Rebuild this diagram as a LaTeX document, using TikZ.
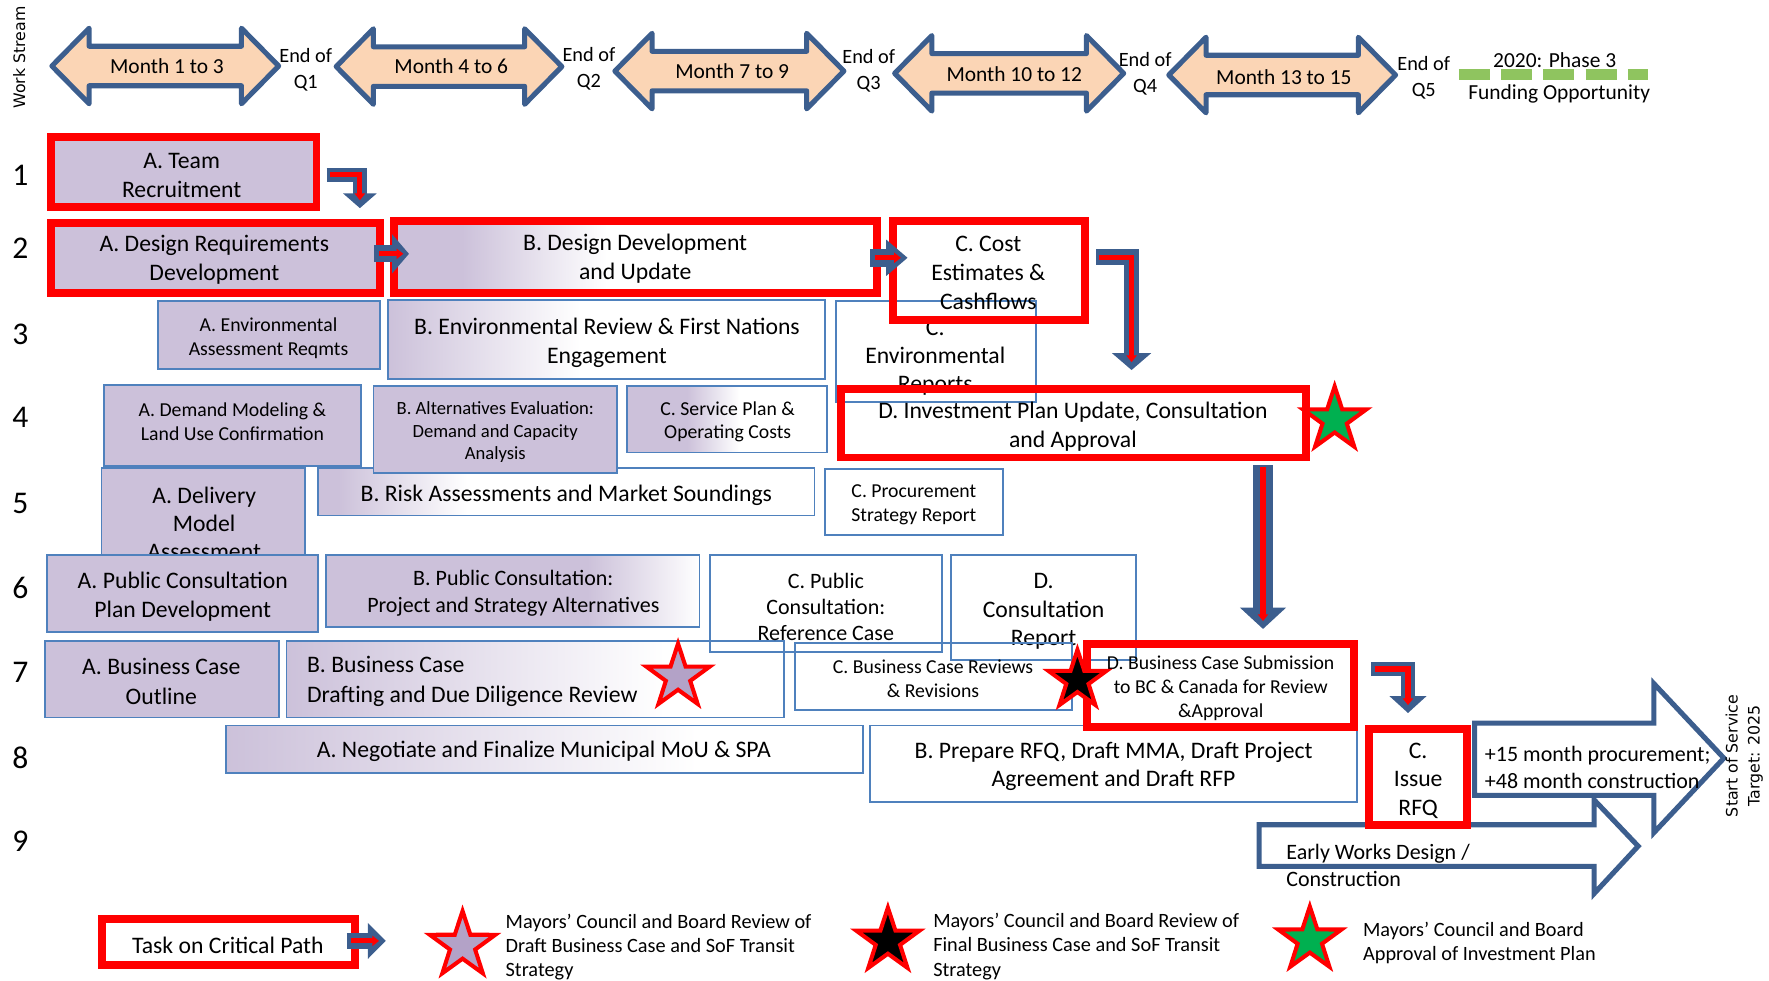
\documentclass[tikz,border=0pt]{standalone}
\usepackage{fontspec}
\setmainfont{Carlito}
\newfontfamily\verdfont{DejaVu Sans}
\usetikzlibrary{shapes.geometric,arrows.meta,calc}
\definecolor{lav}{HTML}{CCC1DA}
\definecolor{bblue}{HTML}{4F81BD}
\definecolor{ablue}{HTML}{3C5E8E}
\definecolor{peach}{HTML}{FBD5B5}
\definecolor{dgreen}{HTML}{8FC45F}
\definecolor{sgreen}{HTML}{00B050}
\definecolor{slav}{HTML}{B3A2C7}
\pgfdeclarehorizontalshading{fadeBdd}{100bp}{color(0bp)=(lav); color(32bp)=(lav); color(47bp)=(white); color(100bp)=(white)}
\pgfdeclarehorizontalshading{fadeBer}{100bp}{color(0bp)=(lav); color(25bp)=(lav); color(47bp)=(white); color(100bp)=(white)}
\pgfdeclarehorizontalshading{fadeCsp}{100bp}{color(0bp)=(lav); color(40bp)=(lav); color(53bp)=(white); color(100bp)=(white)}
\pgfdeclarehorizontalshading{fadeRisk}{100bp}{color(0bp)=(lav); color(27bp)=(lav); color(40bp)=(white); color(100bp)=(white)}
\pgfdeclarehorizontalshading{fadePub}{100bp}{color(0bp)=(lav); color(60bp)=(lav); color(75bp)=(white); color(100bp)=(white)}
\pgfdeclarehorizontalshading{fadeBbc}{100bp}{color(0bp)=(lav); color(25bp)=(lav); color(63bp)=(white); color(100bp)=(white)}
\pgfdeclarehorizontalshading{fadeNeg}{100bp}{color(0bp)=(lav); color(25bp)=(lav); color(62bp)=(white); color(100bp)=(white)}
\newcommand\fs[2]{\fontsize{#1}{#2}\selectfont}
\newcommand\hdrarrow[3]{%
  \draw[harr] (#1,#3) -- ({#1+33},{#3-33.5}) -- ({#1+33},{#3-17.5}) -- ({#2-33},{#3-17.5}) -- ({#2-33},{#3-33.5}) -- (#2,#3) -- ({#2-33},{#3+33.5}) -- ({#2-33},{#3+17.5}) -- ({#1+33},{#3+17.5}) -- ({#1+33},{#3+33.5}) -- cycle;}
\begin{document}
\begin{tikzpicture}[x=1pt,y=-1pt,
  pos/.style args={#1/#2/#3/#4}{minimum width={(#3)-(#1)}, minimum height={(#4)-(#2)}, at={({((#1)+(#3))/2},{((#2)+(#4))/2})}},
  rpos/.style args={#1/#2/#3/#4}{minimum width={(#3)-(#1)-7}, minimum height={(#4)-(#2)-7}, at={({((#1)+(#3))/2},{((#2)+(#4))/2})}},
  bx/.style={rectangle, draw=bblue, line width=1.6pt, inner sep=0pt},
  crit/.style={rectangle, draw=red, line width=7pt, inner sep=0pt},
  lavf/.style={fill=lav},
  tx/.style={align=center, inner sep=0pt, yshift=-2pt, font=\fs{21}{26}},
  txs/.style={tx, font=\fs{17.5}{21}},
  txm/.style={tx, font=\fs{19.5}{24}},
  hdr/.style={align=center, inner sep=0pt, font=\fs{19}{24}},
  qtx/.style={align=center, inner sep=0pt, font=\fs{18}{23}},
  rownum/.style={inner sep=0pt, font=\fs{28}{30}},
  harr/.style={draw=ablue, line width=4.5pt, fill=peach, line join=round},
  barr/.style={draw=ablue, line width=4.5pt, fill=white},
  cpath/.style n args={3}{draw=ablue, line width=#1pt, -{Triangle[length=#2pt,width=#3pt]}},
  cred/.style={draw=red, line width=4.5pt, -{Triangle[length=6pt,width=9pt]}},
  stark/.style={star, star points=5, star point ratio=2.6, inner sep=0pt, draw=red, line width=3.6pt},
  legtx/.style={align=left, anchor=west, inner sep=0pt, yshift=-1pt, font=\fs{18}{21.5}}]
\useasboundingbox (0,0) rectangle (1568,869.5);

% ---------- header ----------
\node[rotate=90, inner sep=0pt, font=\verdfont\fs{14}{16}] (ws) at (17,51) {Work Stream};
\hdrarrow{46}{247}{58.5}
\node[hdr] (m1) at (148,59) {Month 1 to 3};
\hdrarrow{298}{498}{59}
\node[hdr] (m2) at (400,59) {Month 4 to 6};
\hdrarrow{545}{748}{63}
\node[hdr] (m3) at (649,63) {Month 7 to 9};
\hdrarrow{793}{996}{65}
\node[hdr] (m4) at (899,66) {Month 10 to 12};
\hdrarrow{1036}{1237}{66.5}
\node[hdr] (m5) at (1138,68) {Month 13 to 15};
\node[qtx] (q1) at (271,62) {End of\\Q1};
\node[qtx] (q2) at (522,61) {End of\\Q2};
\node[qtx] (q3) at (770,63) {End of\\Q3};
\node[qtx] (q4) at (1015,65) {End of\\Q4};
\node[qtx] (q5) at (1262,69) {End of\\Q5};
\coordinate (g1) at (1293,66);
\coordinate (g2) at (1461,66);
\draw[dgreen, line width=10pt, dash pattern=on 27.5pt off 10pt] (g1) -- (g2);
\node[hdr] (ph3) at (1378,53) {2020: Phase 3};
\node[hdr] (fund) at (1382,83) {Funding Opportunity};

% ---------- row numbers ----------
\node[rownum] (r1) at (18,155) {1};
\node[rownum] (r2) at (18,220) {2};
\node[rownum] (r3) at (18,296) {3};
\node[rownum] (r4) at (18,370) {4};
\node[rownum] (r5) at (18,446) {5};
\node[rownum] (r6) at (18,521) {6};
\node[rownum] (r7) at (18,596) {7};
\node[rownum] (r8) at (18,672) {8};
\node[rownum] (r9) at (18,746) {9};

% ---------- filled task boxes ----------
\node[bx, lavf, pos=140/267/337/327] (aear) {};
\node[txs] (aeart) at (238,297.5) {A. Environmental\\Assessment Reqmts};
\node[bx, shading=fadeBer, pos=344/266/731/336] (ber) {};
\node[tx] (bert) at (538,302) {B. Environmental Review \& First Nations\\Engagement};
\node[bx, shading=fadeCsp, pos=556/342/733/401] (csp) {};
\node[txs] (cspt) at (645,372) {C. Service Plan \&\\Operating Costs};
\node[bx, shading=fadeRisk, pos=282/415/722/457] (brisk) {};
\node[tx] (briskt) at (502,437) {B. Risk Assessments and Market Soundings};
\node[bx, lavf, pos=92/341/320/413] (adm) {};
\node[txs] (admt) at (206,371.5) {A. Demand Modeling \&\\Land Use Confirmation};
\node[bx, lavf, pos=331/342/547/419] (balt) {};
\node[tx, font=\fs{16.5}{20}] (baltt) at (439,381) {B. Alternatives Evaluation:\\Demand and Capacity\\Analysis};
\node[bx, lavf, pos=90/415/270/505] (adel) {};
\node[tx, font=\fs{21}{25}] (adelt) at (181,462) {A. Delivery\\Model\\Assessment};
\node[bx, lavf, pos=42/492/282/560] (apub) {};
\node[tx] (apubt) at (162,527) {A. Public Consultation\\Plan Development};
\node[bx, shading=fadePub, pos=289/492/620/556] (bpub) {};
\node[txm] (bpubt) at (455,524) {B. Public Consultation:\\Project and Strategy Alternatives};
\node[bx, lavf, pos=40/568/247/636] (abc) {};
\node[tx] (abct) at (143,602) {A. Business Case\\Outline};
\node[bx, shading=fadeBbc, pos=254/568/695/636] (bbc) {};
\node[tx, align=left, anchor=west] (bbct) at (272,602) {B. Business Case\\Drafting and Due Diligence Review};
\node[bx, shading=fadeNeg, pos=200/643/765/685] (aneg) {};
\node[tx] (anegt) at (482,664) {A. Negotiate and Finalize Municipal MoU \& SPA};

% ---------- open task boxes ----------
\node[bx, pos=741/267/918/356] (cenv) {};
\node[tx, font=\fs{21}{25}] (cenvt) at (829,315) {C.\\Environmental\\Reports};
\node[bx, pos=731/416/889/474] (cproc) {};
\node[txs] (cproct) at (810,445.5) {C. Procurement\\Strategy Report};
\node[bx, pos=629/492/835/578] (cpub) {};
\node[txm, font=\fs{19.5}{23}] (cpubt) at (732,536) {C. Public\\Consultation:\\Reference Case};
\node[bx, pos=843/492/1007/585] (dcons) {};
\node[tx, font=\fs{21}{25.5}] (dconst) at (925,540) {D.\\Consultation\\Report};
\node[bx, pos=705/570/950/629] (crev) {};
\node[txs] (crevt) at (827,599.5) {C. Business Case Reviews\\\& Revisions};
\node[bx, pos=771/643/1203/711] (bprep) {};
\node[tx, font=\fs{21}{25}] (bprept) at (987,677.5) {B. Prepare RFQ, Draft MMA, Draft Project\\Agreement and Draft RFP};

% ---------- long arrows ----------
\draw[barr] (1307,641) -- (1466,641) -- (1466,606) -- (1528,672) -- (1466,738) -- (1466,705) -- (1307,705) -- cycle;
\node[txm, align=left, anchor=west] (p15) at (1316,678) {+15 month procurement;\\+48 month construction};
\draw[barr] (1116,731) -- (1413,731) -- (1413,709) -- (1452,750) -- (1413,792) -- (1413,768) -- (1116,768) -- cycle;
\node[txm, align=left, anchor=west] (ew) at (1140,765) {Early Works Design /\\Construction};
\node[rotate=90, align=center, inner sep=0pt, font=\verdfont\fs{14}{19.5}] (sos) at (1546,670) {Start of Service\\Target: 2025};

% ---------- critical path boxes ----------
\node[crit, lavf, rpos=42/118/284/187] (team) {};
\node[tx, font=\fs{21}{25}] (teamt) at (161,153.5) {A. Team\\Recruitment};
\node[crit, lavf, rpos=42/194/340/263] (dreq) {};
\node[tx] (dreqt) at (190,228) {A. Design Requirements\\Development};
\node[crit, shading=fadeBdd, rpos=346/192/781/263] (bdd) {};
\node[tx] (bddt) at (563,227) {B. Design Development\\and Update};
\node[crit, rpos=788/192/965/287] (cost) {};
\node[tx, font=\fs{21}{25.5}] (costt) at (876,240) {C. Cost\\Estimates \&\\Cashflows};
\node[crit, rpos=742/341/1161/409] (dinv) {};
\node[tx] (dinvt) at (951,376) {D. Investment Plan Update, Consultation\\and Approval};
\node[crit, rpos=960/567/1204/648] (dbcs) {};
\node[txs] (dbcst) at (1082,608) {D. Business Case Submission\\to BC \& Canada for Review\\\&Approval};
\node[crit, rpos=1210/643/1304/735] (cissue) {};
\node[tx, font=\fs{21}{25.5}] (cissuet) at (1257,690) {C.\\Issue\\RFQ};

% ---------- stars ----------
\node[stark, fill=slav, minimum size=59pt] (s1) at (601,600) {};
\node[stark, fill=black, minimum size=54pt] (s2) at (955,603) {};
\node[stark, fill=sgreen, minimum size=59pt] (s3) at (1183,372) {};

% ---------- critical path connectors ----------
\coordinate (a1e) at ($(dreq.north)+(128,-9.5)$);
\draw[cpath={13}{13}{29}] ($(team.east)+(5.5,2.5)$) -| (a1e);
\draw[cred] ($(team.east)+(8.5,2.5)$) -| ($(a1e)+(0,-7)$);
\draw[cpath={15}{15}{34}] ($(dreq.east)+(-8.5,-3.5)$) -- ($(bdd.west)+(16.5,-2.5)$);
\draw[cred] ($(dreq.east)+(-4,-3.5)$) -- ($(bdd.west)+(11.5,-2.5)$);
\draw[cpath={16}{19}{31}] ($(bdd.east)+(-9.5,1)$) -- ($(cost.west)+(16.5,-11)$);
\draw[cred] ($(bdd.east)+(-5.5,1)$) -- ($(cost.west)+(10.5,-11)$);
\draw[cpath={14}{15}{34}] ($(cost.east)+(6.5,-11.5)$) -| ($(dinv.north)+(51.5,-13)$);
\draw[cred] ($(cost.east)+(9.5,-11.5)$) -| ($(dinv.north)+(51.5,-20)$);
\draw[cpath={17}{19}{40}] ($(dinv.south)+(168,3.5)$) -- ($(dbcs.north)+(37.5,-9.5)$);
\draw[cred] ($(dinv.south)+(168,5)$) -- ($(dbcs.north)+(37.5,-16.5)$);
\draw[cpath={13}{15}{32}] ($(dbcs.east)+(11.5,-14.5)$) -| ($(cissue.north)+(-9,-11)$);
\draw[cred] ($(dbcs.east)+(14.5,-14.5)$) -| ($(cissue.north)+(-9,-18)$);

% ---------- legend ----------
\node[crit, fill=white, rpos=87/811/318/859] (legbox) {};
\node[tx] (legboxt) at (202,836) {Task on Critical Path};
\coordinate (lege) at (342,834);
\draw[cpath={14}{16}{31}] ($(legbox.east)+(-10.5,-1)$) -- (lege);
\draw[cred] ($(legbox.east)+(-7,-1)$) -- ($(lege)+(-6,0)$);
\node[stark, fill=slav, minimum size=61pt] (ls1) at (410,838) {};
\node[legtx] (lt1) at (448,838.5) {Mayors’ Council and Board Review of\\Draft Business Case and SoF Transit\\Strategy};
\node[stark, fill=black, minimum size=59pt] (ls2) at (787,834) {};
\node[legtx] (lt2) at (827,838) {Mayors’ Council and Board Review of\\Final Business Case and SoF Transit\\Strategy};
\node[stark, fill=sgreen, minimum size=59pt] (ls3) at (1161,833) {};
\node[legtx] (lt3) at (1208,834.5) {Mayors’ Council and Board\\Approval of Investment Plan};
\end{tikzpicture}
\end{document}
